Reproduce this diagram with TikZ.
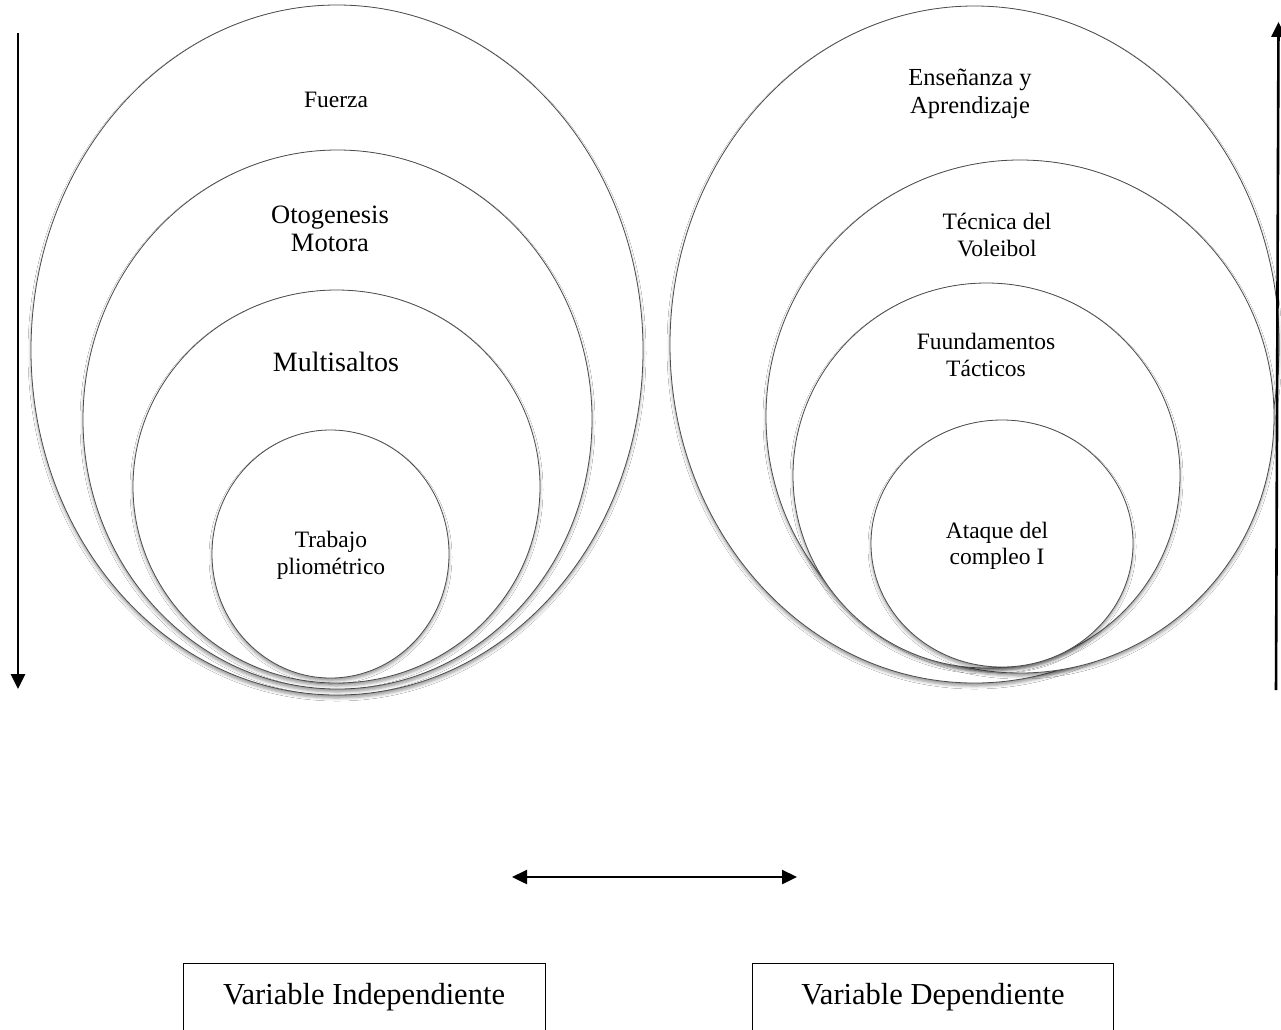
\documentclass[tikz,border=0pt]{standalone}
\usepackage{fontspec}
\setmainfont{Liberation Serif}
\usetikzlibrary{shapes.geometric,arrows.meta,shadows.blur}

\begin{document}
\begin{tikzpicture}[x=1pt,y=-1pt,
  ring/.style={ellipse, draw=black!70, line width=0.8pt, fill=white, inner sep=0pt,
    blur shadow={shadow xshift=0pt, shadow yshift=-3pt, shadow blur radius=3pt, shadow opacity=40}},
  lbl/.style={align=center, inner sep=0pt, font=\fontsize{23.5}{26.5}\selectfont},
  varbox/.style={draw, line width=1.2pt, anchor=north west, inner sep=0pt},
  tip/.style={-{Triangle[length=15pt,width=14pt]}, line width=2.6pt}
]
\useasboundingbox (0,0) rectangle (1281,1029);
\fill[white] (0,0) rectangle (1281,1029);

% left group of nested ellipses
\node[ring, minimum width=612pt, minimum height=690pt] (fuerza) at (337,350) {};
\node[ring, minimum width=509pt, minimum height=539pt] (otog)   at (337.5,419.5) {};
\node[ring, minimum width=407pt, minimum height=393pt] (multi)  at (336.5,486.5) {};
\node[ring, minimum width=237pt, minimum height=248pt] (trab)   at (330.5,554) {};

% right group of nested ellipses
\node[ring, minimum width=609pt, minimum height=677pt] (ense)   at (974.5,344.5) {};
\node[ring, minimum width=508pt, minimum height=513pt] (tecn)   at (1020,416.5) {};
\node[ring, minimum width=387pt, minimum height=385pt] (fund)   at (986.5,475.5) {};
\node[ring, minimum width=262pt, minimum height=247pt] (ataq)   at (1002,543.5) {};

% labels
\node[lbl] (tFuerza) at (336,100) {Fuerza};
\node[lbl, font=\fontsize{26.5}{28}\selectfont] (tOtog) at (330,229) {Otogenesis\\Motora};
\node[lbl, font=\fontsize{28}{30}\selectfont] (tMulti) at (336,362) {Multisaltos};
\node[lbl, font=\fontsize{23.5}{27}\selectfont] (tTrab) at (331,555) {Trabajo\\pliométrico};
\node[lbl, font=\fontsize{24.5}{28}\selectfont] (tEnse) at (970,94) {Enseñanza y\\Aprendizaje};
\node[lbl] (tTecn) at (997,235) {Técnica del\\Voleibol};
\node[lbl] (tFund) at (986,355) {Fuundamentos\\Tácticos};
\node[lbl] (tAtaq) at (997,546) {Ataque del\\compleo I};

% vertical arrows at the sides
\coordinate (lTop) at (18,33);
\coordinate (lBot) at (18,689);
\coordinate (rBot) at (1276,690);
\coordinate (rTop) at (1278.5,22);
\draw[tip] (lTop) -- (lBot);
\draw[tip] (rBot) -- (rTop);

% double arrow in the middle
\coordinate (hL) at (512,877);
\coordinate (hR) at (797,877);
\draw[{Triangle[length=15pt,width=14pt]}-{Triangle[length=15pt,width=14pt]}, line width=2.4pt] (hL) -- (hR);

% variable boxes
\node[varbox, minimum width=362pt, minimum height=90pt] (vInd) at (183,963) {};
\node[varbox, minimum width=361pt, minimum height=90pt] (vDep) at (752,963) {};
\node[font=\fontsize{30.5}{32}\selectfont, inner sep=0pt] (tInd) at (364,997) {Variable Independiente};
\node[font=\fontsize{30.5}{32}\selectfont, inner sep=0pt] (tDep) at (933,997) {Variable Dependiente};
\end{tikzpicture}
\end{document}
